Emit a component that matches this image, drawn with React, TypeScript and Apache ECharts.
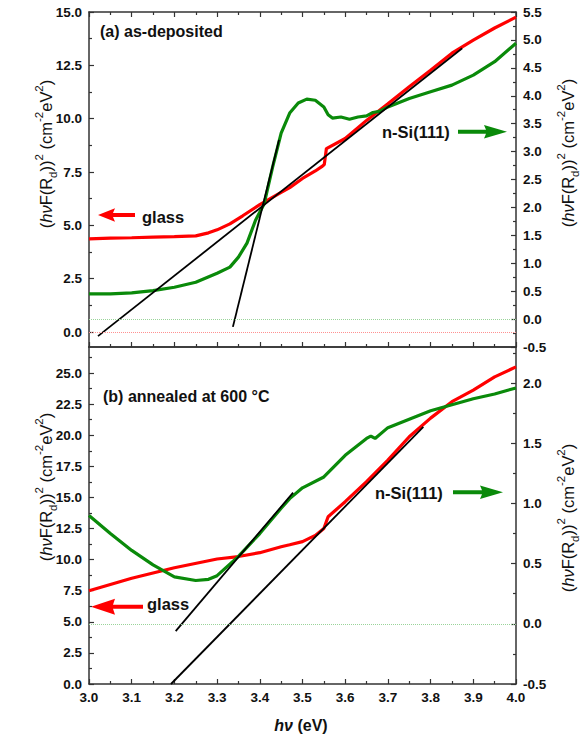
import React, { useEffect, useRef } from "react";
import * as echarts from "echarts";

// ---------- data (photon energy in eV) ----------
// (a) as-deposited, glass substrate (left axis)
const topGlassEv = [3.0, 3.05, 3.1, 3.15, 3.2, 3.25, 3.28, 3.3, 3.33, 3.36, 3.4, 3.45, 3.47, 3.5, 3.53, 3.545, 3.551, 3.556, 3.6, 3.65, 3.7, 3.75, 3.8, 3.85, 3.9, 3.95, 4.0];
const topGlassVal = [4.37, 4.4, 4.42, 4.45, 4.47, 4.51, 4.65, 4.79, 5.07, 5.45, 5.97, 6.55, 6.77, 7.2, 7.55, 7.75, 7.85, 8.6, 9.07, 9.92, 10.7, 11.5, 12.27, 13.07, 13.68, 14.25, 14.76];
// (a) as-deposited, n-Si(111) substrate (right axis)
const topSiEv = [3.0, 3.05, 3.1, 3.15, 3.2, 3.25, 3.3, 3.33, 3.35, 3.37, 3.39, 3.41, 3.43, 3.45, 3.47, 3.49, 3.51, 3.53, 3.55, 3.56, 3.57, 3.59, 3.61, 3.63, 3.65, 3.665, 3.68, 3.7, 3.75, 3.8, 3.85, 3.9, 3.95, 4.0];
const topSiVal = [0.45, 0.45, 0.47, 0.51, 0.57, 0.66, 0.82, 0.93, 1.11, 1.36, 1.77, 2.06, 2.72, 3.33, 3.69, 3.87, 3.94, 3.92, 3.8, 3.66, 3.6, 3.62, 3.58, 3.62, 3.64, 3.7, 3.72, 3.8, 3.95, 4.07, 4.19, 4.37, 4.61, 4.94];
// (a) linear fits
const topGlassFitEv = [3.021, 3.874];
const topGlassFitVal = [-0.19, 13.3];
const topSiFitEv = [3.337, 3.445];
const topSiFitVal = [-0.14, 3.21];

// (b) annealed at 600 °C, glass (left axis)
const botGlassEv = [3.0, 3.1, 3.2, 3.3, 3.35, 3.4, 3.45, 3.47, 3.5, 3.53, 3.55, 3.56, 3.6, 3.65, 3.7, 3.75, 3.8, 3.85, 3.9, 3.95, 4.0];
const botGlassVal = [7.5, 8.5, 9.35, 10.05, 10.25, 10.56, 11.04, 11.2, 11.45, 11.95, 12.5, 13.45, 14.66, 16.27, 18.0, 19.88, 21.38, 22.7, 23.63, 24.7, 25.5];
// (b) n-Si(111) (right axis)
const botSiEv = [3.0, 3.05, 3.1, 3.15, 3.2, 3.25, 3.28, 3.3, 3.35, 3.4, 3.45, 3.47, 3.5, 3.55, 3.6, 3.65, 3.66, 3.67, 3.7, 3.75, 3.8, 3.85, 3.9, 3.95, 4.0];
const botSiVal = [0.9, 0.75, 0.61, 0.49, 0.39, 0.36, 0.37, 0.4, 0.56, 0.75, 0.96, 1.04, 1.13, 1.22, 1.4, 1.54, 1.56, 1.54, 1.63, 1.7, 1.77, 1.82, 1.87, 1.91, 1.96];
// (b) linear fits
const botGlassFitEv = [3.192, 3.783];
const botGlassFitVal = [0, 20.68];
const botSiFitEv = [3.203, 3.478];
const botSiFitVal = [-0.06, 1.09];

// ---------- tick values ----------
const topLeftTicks = [0, 2.5, 5, 7.5, 10, 12.5, 15];
const topLeftMinor = [1.25, 3.75, 6.25, 8.75, 11.25, 13.75];
const topRightTicks = [-0.5, 0, 0.5, 1, 1.5, 2, 2.5, 3, 3.5, 4, 4.5, 5, 5.5];
const topRightMinor = [-0.25, 0.25, 0.75, 1.25, 1.75, 2.25, 2.75, 3.25, 3.75, 4.25, 4.75, 5.25];
const botLeftTicks = [0, 2.5, 5, 7.5, 10, 12.5, 15, 17.5, 20, 22.5, 25];
const botLeftMinor = [1.25, 3.75, 6.25, 8.75, 11.25, 13.75, 16.25, 18.75, 21.25, 23.75, 26.25];
const botRightTicks = [-0.5, 0, 0.5, 1, 1.5, 2];
const botRightMinor = [-0.25, 0.25, 0.75, 1.25, 1.75, 2.25];

const FONT = "'Liberation Sans', Arial, sans-serif";
const AX = "#333";
const RED = "#ff0000";
const GREEN = "#0a8a0a";

const pairs = (xs: number[], ys: number[]) => xs.map((x, i) => [x, ys[i]]);

function xAx(grid: number, position: string, labels: boolean, ticks: boolean) {
  return {
    type: "value",
    gridIndex: grid,
    position,
    min: 3.0,
    max: 4.0,
    interval: 0.1,
    axisLine: { show: true, onZero: false, lineStyle: { color: AX, width: 1.5 } },
    axisTick: { show: ticks, inside: true, length: 5, lineStyle: { color: AX, width: 1.2 } },
    minorTick: { show: ticks, splitNumber: 2, length: 3, lineStyle: { color: AX, width: 1.2 } },
    axisLabel: {
      show: labels,
      formatter: (v: number) => v.toFixed(1),
      color: "#111",
      fontFamily: FONT,
      fontWeight: "bold",
      fontSize: 13.5,
      margin: 6,
    },
    splitLine: { show: false },
    minorSplitLine: { show: false },
  };
}

function yAx(grid: number, position: string, min: number, max: number, majors: number[]) {
  return {
    type: "value",
    gridIndex: grid,
    position,
    min,
    max,
    axisLine: { show: true, onZero: false, lineStyle: { color: AX, width: 1.5 } },
    axisTick: { show: true, inside: true, length: 5, customValues: majors, lineStyle: { color: AX, width: 1.2 } },
    axisLabel: {
      show: true,
      customValues: majors,
      formatter: (v: number) => v.toFixed(1),
      color: "#111",
      fontFamily: FONT,
      fontWeight: "bold",
      fontSize: 13.5,
      margin: 7,
    },
    splitLine: { show: false },
  };
}

function yMinor(grid: number, position: string, min: number, max: number, minors: number[]) {
  return {
    type: "value",
    gridIndex: grid,
    position,
    min,
    max,
    axisLine: { show: false, onZero: false },
    axisTick: { show: true, inside: true, length: 3, customValues: minors, lineStyle: { color: AX, width: 1.2 } },
    axisLabel: { show: false },
    splitLine: { show: false },
  };
}

const titleRich = {
  n: { fontSize: 16.5, fontFamily: FONT, lineHeight: 26, fill: "#111" },
  i: { fontSize: 16.5, fontFamily: FONT, fontStyle: "italic", lineHeight: 26, fill: "#111" },
  sup: { fontSize: 11.5, fontFamily: FONT, lineHeight: 12, verticalAlign: "top", fill: "#111" },
  sub: { fontSize: 11.5, fontFamily: FONT, lineHeight: 12, verticalAlign: "bottom", fill: "#111" },
};
const titleText = "{n|(}{i|hν}{n|F(R}{sub|d}{n|))}{sup|2}{n| (cm}{sup|-2}{n|eV}{sup|2}{n|)}";

function yTitle(x: number, y: number) {
  return {
    type: "text",
    x,
    y,
    rotation: Math.PI / 2,
    style: { text: titleText, rich: titleRich, align: "center", verticalAlign: "middle" },
  };
}

function arrow(tipX: number, tailX: number, y: number, headLen: number, halfH: number, color: string) {
  const dir = tailX > tipX ? 1 : -1;
  const hb = tipX + dir * headLen;
  const t = 2;
  return {
    type: "polygon",
    shape: {
      points: [
        [tipX, y],
        [hb, y - halfH],
        [hb - dir * 2, y - t],
        [tailX, y - t],
        [tailX, y + t],
        [hb - dir * 2, y + t],
        [hb, y + halfH],
      ],
    },
    style: { fill: color },
  };
}

function label(text: string, x: number, y: number, size = 16) {
  return {
    type: "text",
    x,
    y,
    style: { text, fontFamily: FONT, fontWeight: "bold", fontSize: size, fill: "#111", align: "left", verticalAlign: "middle" },
  };
}

function lineSeries(data: number[][], xi: number, yi: number, color: string, width: number, z: number, extra: any = {}) {
  return {
    type: "line",
    xAxisIndex: xi,
    yAxisIndex: yi,
    data,
    showSymbol: false,
    symbol: "none",
    smooth: false,
    lineStyle: { color, width },
    itemStyle: { color },
    z,
    ...extra,
  };
}

function refLine(color: string) {
  return {
    markLine: {
      silent: true,
      symbol: ["none", "none"],
      label: { show: false },
      lineStyle: { color, type: "dotted", width: 1 },
      data: [{ yAxis: 0 }],
    },
  };
}

export default function App() {
  const ref = useRef<HTMLDivElement>(null);
  useEffect(() => {
    if (!ref.current) return;
    const chart = echarts.init(ref.current, undefined, { renderer: "svg" });
    const option: any = {
      animation: false,
      backgroundColor: "#ffffff",
      grid: [
        { left: 89, top: 12, width: 427, height: 335, outerBoundsMode: "none" },
        { left: 89, top: 347, width: 427, height: 337, outerBoundsMode: "none" },
      ],
      xAxis: [xAx(0, "bottom", false, true), xAx(0, "top", false, true), xAx(1, "bottom", true, true), xAx(1, "top", false, false)],
      yAxis: [
        yAx(0, "left", -0.7, 15, topLeftTicks),
        yAx(0, "right", -0.5, 5.5, topRightTicks),
        yAx(1, "left", 0, 27.1, botLeftTicks),
        yAx(1, "right", -0.5, 2.3, botRightTicks),
        yMinor(0, "left", -0.7, 15, topLeftMinor),
        yMinor(0, "right", -0.5, 5.5, topRightMinor),
        yMinor(1, "left", 0, 27.1, botLeftMinor),
        yMinor(1, "right", -0.5, 2.3, botRightMinor),
      ],
      series: [
        lineSeries(pairs(topGlassEv, topGlassVal), 0, 0, RED, 3.2, 2, refLine("#ff9090")),
        lineSeries(pairs(topSiEv, topSiVal), 0, 1, GREEN, 3.2, 3, refLine("#9ad49a")),
        lineSeries(pairs(topGlassFitEv, topGlassFitVal), 0, 0, "#000", 1.8, 4),
        lineSeries(pairs(topSiFitEv, topSiFitVal), 0, 1, "#000", 1.8, 4),
        lineSeries(pairs(botGlassEv, botGlassVal), 2, 2, RED, 3.2, 2),
        lineSeries(pairs(botSiEv, botSiVal), 2, 3, GREEN, 3.2, 3, refLine("#9ad49a")),
        lineSeries(pairs(botGlassFitEv, botGlassFitVal), 2, 2, "#000", 1.8, 4),
        lineSeries(pairs(botSiFitEv, botSiFitVal), 2, 3, "#000", 1.8, 4),
      ],
      graphic: [
        yTitle(46, 154),
        yTitle(568, 153),
        yTitle(46, 487),
        yTitle(568, 518),
        {
          type: "text",
          x: 301,
          y: 725,
          style: {
            text: "{i|hν}{b| (eV)}",
            rich: {
              i: { fontFamily: FONT, fontSize: 16, fontWeight: "bold", fontStyle: "italic", fill: "#111" },
              b: { fontFamily: FONT, fontSize: 16, fontWeight: "bold", fill: "#111" },
            },
            align: "center",
            verticalAlign: "middle",
          },
        },
        label("(a) as-deposited", 100, 31.7),
        label("(b) annealed at 600 °C", 103, 396.7),
        arrow(98, 135, 215, 17, 6.7, RED),
        label("glass", 142, 216.5, 16.5),
        label("n-Si(111)", 382, 131.5, 16.5),
        arrow(507, 458, 131.7, 23, 6.7, GREEN),
        arrow(91, 143, 606.7, 24, 8, RED),
        label("glass", 147, 604, 16.5),
        label("n-Si(111)", 375, 493, 16.5),
        arrow(503, 453, 492.3, 23, 6.7, GREEN),
      ],
    };
    chart.setOption(option);
    return () => chart.dispose();
  }, []);
  return <div ref={ref} style={{ position: "fixed", left: 0, top: 0, width: 586, height: 742 }} />;
}
